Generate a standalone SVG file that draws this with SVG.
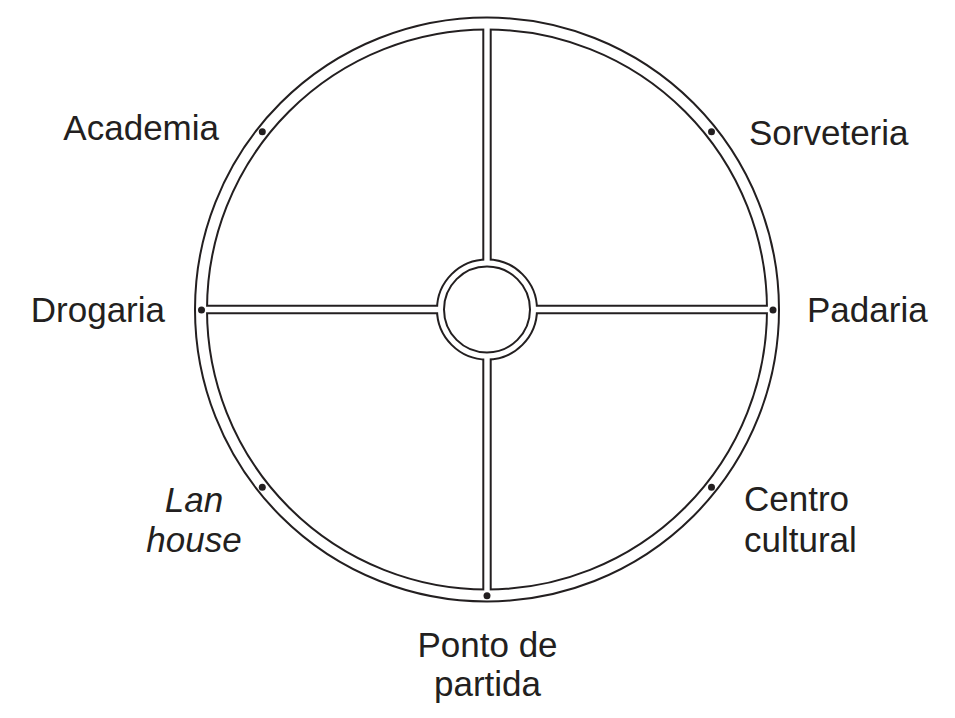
<svg xmlns="http://www.w3.org/2000/svg" width="955" height="718" viewBox="0 0 955 718">
<style>
.lbl{font-family:"Liberation Sans",Arial,sans-serif;font-size:35px;fill:#231f20}
.it{font-style:italic}
.dot{fill:#231f20}
.edge{fill:none;stroke:#231f20;stroke-linecap:butt}
.fillw{fill:none;stroke:#ffffff;stroke-linecap:butt}
</style>
<rect width="955" height="718" fill="#ffffff"/>
<g id="roads">
  <circle class="edge" cx="487" cy="309.5" r="286" stroke-width="14"/>
  <path class="edge" stroke-width="9.4" d="M487 23.5V263M487 356V595.5M201 309.5H440.5M533.5 309.5H773"/>
  <circle class="edge" cx="487" cy="309.5" r="46.5" stroke-width="9"/>
  <circle class="fillw" cx="487" cy="309.5" r="286" stroke-width="10"/>
  <path class="fillw" stroke-width="5.4" d="M487 20V263M487 356V599M197 309.5H440.5M533.5 309.5H777"/>
  <circle class="fillw" cx="487" cy="309.5" r="46.5" stroke-width="5"/>
</g>
<g id="academia"><circle class="dot" cx="262.3" cy="131.7" r="3.5"/><text class="lbl" x="219" y="139.5" text-anchor="end">Academia</text></g>
<g id="sorveteria"><circle class="dot" cx="711.5" cy="131.7" r="3.5"/><text class="lbl" x="749" y="145">Sorveteria</text></g>
<g id="drogaria"><circle class="dot" cx="201.5" cy="310" r="3.5"/><text class="lbl" x="165" y="322.3" text-anchor="end">Drogaria</text></g>
<g id="padaria"><circle class="dot" cx="773" cy="310" r="3.5"/><text class="lbl" x="807" y="322.3">Padaria</text></g>
<g id="lanhouse"><circle class="dot" cx="262.3" cy="487.3" r="3.5"/><text class="lbl it" text-anchor="middle"><tspan x="194" y="511.7">Lan</tspan><tspan x="194" y="551.7">house</tspan></text></g>
<g id="centro"><circle class="dot" cx="711.5" cy="487.3" r="3.5"/><text class="lbl"><tspan x="744" y="510.7">Centro</tspan><tspan x="744" y="551.7">cultural</tspan></text></g>
<g id="ponto"><circle class="dot" cx="487" cy="595.7" r="3.5"/><text class="lbl" text-anchor="middle"><tspan x="487.5" y="656.7">Ponto de</tspan><tspan x="487.5" y="695.5">partida</tspan></text></g>
</svg>
